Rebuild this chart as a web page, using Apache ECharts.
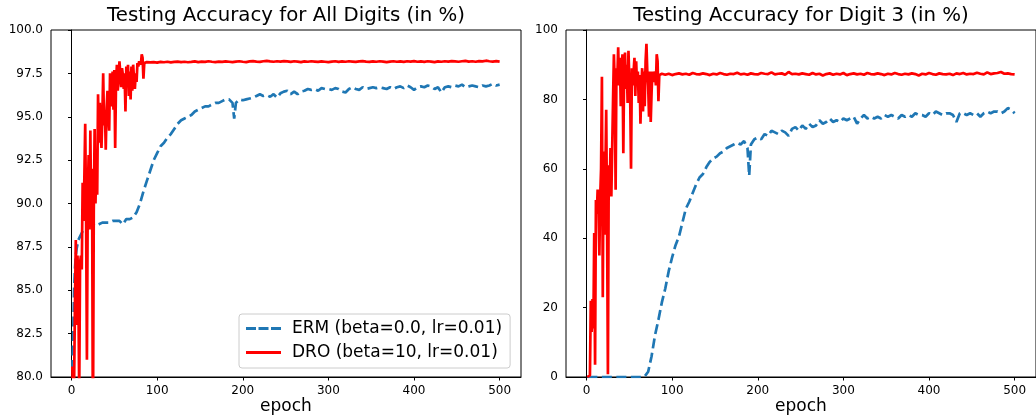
<!DOCTYPE html>
<html>
<head>
<meta charset="utf-8">
<script src="https://cdn.jsdelivr.net/npm/echarts@6/dist/echarts.min.js"></script>
<style>
html,body{margin:0;padding:0;background:#fff;}
#chart{width:1036px;height:417px;}
</style>
</head>
<body>
<div id="chart"></div>
<script>
// ---------------- DATA ----------------
const titles = ['Testing Accuracy for All Digits (in %)', 'Testing Accuracy for Digit 3 (in %)'];
const xLabel = 'epoch';
const seriesNames = ['ERM (beta=0.0, lr=0.01)', 'DRO (beta=10, lr=0.01)'];
const xTicks = [0, 100, 200, 300, 400, 500];

// DRO, epochs 1..90 (one value per epoch)
const droEarlyAll = [
80.6,78,79.5,84,87.9,83,87.0,85,79,86.6,
87,86.2,91.2,89,91.5,94.6,89.5,81.0,90.5,92.8,
88.5,94.2,89.0,92,76,89.5,94.3,90,92.5,90.5,
96.3,93.5,95.8,94,93.2,95,97.5,94.5,95.4,93.1,
95.5,96.5,95.2,94.2,97.5,96,95.6,97.6,95.4,97.7,
93.2,97,98.0,96.5,97.2,98.2,97.5,96.7,97.8,97.4,
96.6,97.5,95.3,97.9,96.8,98.0,96.2,97.6,96.0,97.9,
96.5,98.0,97.2,96.6,97.5,97.0,98.1,97.9,98.2,98.3,
98.0,98.6,98.4,97.2,98.1,98.2,98.1,98.15,98.1,98.12
];
const droEarlyD3 = [
0,0,0,0.5,22,13,22.5,14,41.5,3.5,
51,47,54,50,35,52,60,86.5,23,65,
41,58,77,45,0.8,61,52,66,52,66,
80,93,84,54,89,86,95,84,92,78,
88,93,64.5,90,93.5,83,90,79,94,86,
81,60,89,84,88,92,81,91,84,88,
79,87,73,83,89,76.5,88,78,91,96,
88,84,75,88,73.5,82,88,85,87,88,
84,93,91,79.5,87,87.3,87.2,87.4,87.1,87.3
];

// DRO after epoch 90
const lateEpochs = [92,96,100,104,108,112,116,120,124,128,132,136,140,144,148,152,156,160,164,168,172,176,180,184,188,192,196,200,204,208,212,216,220,224,228,232,236,240,244,248,252,256,260,264,268,272,276,280,284,288,292,296,300,304,308,312,316,320,324,328,332,336,340,344,348,352,356,360,364,368,372,376,380,384,388,392,396,400,404,408,412,416,420,424,428,432,436,440,444,448,452,456,460,464,468,472,476,480,484,488,492,496,500];
const droLateAll = [
98.13,98.15,98.12,98.16,98.14,98.17,98.13,98.16,98.18,98.15,
98.17,98.14,98.16,98.19,98.15,98.18,98.16,98.2,98.17,98.15,
98.18,98.16,98.19,98.17,98.15,98.18,98.2,98.17,98.15,98.19,
98.21,98.18,98.16,98.2,98.22,98.19,98.17,98.2,98.18,98.21,
98.19,98.16,98.2,98.18,98.15,98.19,98.17,98.2,98.18,98.16,
98.19,98.17,98.15,98.18,98.2,98.16,98.19,98.17,98.2,98.18,
98.16,98.19,98.21,98.18,98.16,98.19,98.17,98.2,98.18,98.15,
98.18,98.2,98.17,98.19,98.16,98.2,98.18,98.21,98.17,98.19,
98.16,98.2,98.18,98.15,98.19,98.17,98.2,98.18,98.21,98.19,
98.17,98.2,98.22,98.18,98.2,98.17,98.21,98.19,98.23,98.2,
98.18,98.21,98.18
];
const droLateD3 = [
87.1,87.4,87.0,87.3,87.5,87.2,87.4,87.1,87.6,87.3,
87.2,87.5,87.3,87.0,87.4,87.2,87.6,87.3,87.1,87.4,
87.3,87.7,87.2,87.4,87.1,87.5,87.3,87.2,87.6,87.4,
87.3,87.8,87.2,87.4,87.5,87.1,87.9,87.3,87.4,87.2,
87.5,87.3,87.1,87.6,87.2,87.4,86.9,87.3,87.5,87.1,
87.4,87.2,87.6,87.0,87.3,87.5,87.2,87.4,87.1,87.6,
87.3,87.2,87.5,87.3,87.0,87.4,87.2,87.6,87.3,87.1,
87.4,87.2,87.5,87.3,86.9,87.4,87.2,87.6,87.3,87.1,
87.5,87.3,87.2,87.4,87.0,87.5,87.3,87.6,87.2,87.4,
87.3,87.7,87.4,87.2,87.8,87.3,87.5,87.6,87.9,87.4,
87.5,87.3,87.2
];

// ERM
const ermEpochs = [1,2,3,4,5,6,8,10,13,16,
20,24,28,32,36,40,44,48,52,56,60,64,68,72,76,80,84,88,92,96,100,104,108,112,116,120,124,128,132,136,140,144,148,152,156,160,164,168,172,176,180,184,188,
190,
192,196,200,204,208,212,216,220,224,228,232,236,240,244,248,252,256,260,264,268,272,276,280,284,288,292,296,300,304,308,312,316,320,324,328,332,336,340,344,348,352,356,360,364,368,372,376,380,384,388,392,396,400,404,408,412,416,420,424,428,432,436,440,444,448,452,456,460,464,468,472,476,480,484,488,492,496,500];
const ermAll = [80.4,82.5,85.0,86.2,87.0,87.4,87.9,88.1,88.4,88.6,
88.7,88.8,88.7,88.8,88.9,88.9,88.9,89.0,89.0,89.0,88.8,89.1,89.1,89.2,89.5,90.0,90.7,91.3,91.9,92.5,92.9,93.3,93.5,93.8,94.0,94.3,94.6,94.8,94.9,95.0,95.1,95.3,95.4,95.5,95.6,95.6,95.7,95.8,95.8,95.9,96.0,96.0,95.8,
94.9,
95.8,96.0,95.95,96.0,96.05,96.1,96.2,96.3,96.2,96.25,96.15,96.3,96.1,96.35,96.45,96.5,96.3,96.45,96.3,96.45,96.5,96.6,96.55,96.6,96.5,96.65,96.6,96.6,96.55,96.65,96.6,96.45,96.4,96.6,96.7,96.6,96.55,96.7,96.6,96.65,96.7,96.65,96.7,96.65,96.6,96.7,96.6,96.7,96.75,96.65,96.8,96.7,96.55,96.7,96.75,96.7,96.8,96.75,96.6,96.7,96.4,96.7,96.75,96.7,96.8,96.75,96.85,96.7,96.75,96.8,96.75,96.7,96.8,96.75,96.8,96.9,96.8,96.85];
const ermD3 = [0,0,0,0,0,0,0,0,0,0,
0,0,0,0,0,0,0,0,0,0,0,0,0.2,1.5,6,12,16.5,21.5,25.5,30.5,34.5,38,40.5,44.5,48.5,50.5,53,55.5,57.5,58.5,60.5,62,63,63.5,64.5,65,66,66.5,67,67.5,67,68,66,
58,
67,68.5,69,68.5,70,69.5,71,70.5,70,71,70.5,69.5,71.5,72,71,72.5,71.5,73,72,72.5,74,73,73.5,74.5,73.5,74,73.5,74.5,74,74.5,75,73,74.5,75.5,74.5,75,74.5,75,74.5,75.5,75,75.5,75,74.5,75.5,75,75.5,75,76,75.5,75.5,75,76,75.5,76.5,76,75.5,76,76,75.5,73.5,76,76,75.5,76,75.5,76,75,76,76.5,76,76.5,76.5,76,76.5,77.5,77,76];

// ---------------- BUILD ----------------
function pairs(xs, ys) { return xs.map((x, i) => [x, ys[i]]); }
function earlyPairs(ys) { return ys.map((v, i) => [i + 1, v]); }

const FONT = 'DejaVu Sans';
const BLUE = '#1f77b4', RED = '#ff0000';
const LW = 2.7;

// legend glyphs (35 x 17 box, 3px tall stroke in the middle)
const ICON_DASH = 'path://M0,0L0,17M35,0L35,17M0,7h10v3h-10zM12.5,7h10v3h-10zM25,7h10v3h-10z';
const ICON_SOLID = 'path://M0,0L0,17M35,0L35,17M0,7h35v3h-35z';

function xAxisCfg(gi) {
  return {
    gridIndex: gi, type: 'value', min: -23.95, max: 524.95,
    axisLine: { show: true, lineStyle: { color: '#000', width: 1 } },
    axisTick: { show: true, length: 3.5, inside: false, lineStyle: { color: '#000' }, customValues: xTicks },
    axisLabel: { show: true, margin: 8, color: '#000', fontSize: 12, fontFamily: FONT, customValues: xTicks },
    splitLine: { show: false }
  };
}

const option = {
  animation: false,
  backgroundColor: '#fff',
  grid: [
    { left: 51, top: 30, width: 470, height: 347, show: true, borderColor: '#000', borderWidth: 1, backgroundColor: 'transparent' },
    { left: 566, top: 30, width: 471, height: 347, show: true, borderColor: '#000', borderWidth: 1, backgroundColor: 'transparent' }
  ],
  xAxis: [xAxisCfg(0), xAxisCfg(1)],
  yAxis: [
    { gridIndex: 0, type: 'value', min: 80, max: 100, interval: 2.5,
      axisLine: { show: true, lineStyle: { color: '#000' } },
      axisTick: { show: true, length: 3.5, lineStyle: { color: '#000' } },
      axisLabel: { margin: 8, color: '#000', fontSize: 12, fontFamily: FONT, formatter: v => v.toFixed(1) },
      splitLine: { show: false } },
    { gridIndex: 1, type: 'value', min: 0, max: 100, interval: 20,
      axisLine: { show: true, lineStyle: { color: '#000' } },
      axisTick: { show: true, length: 3.5, lineStyle: { color: '#000' } },
      axisLabel: { margin: 8, color: '#000', fontSize: 12, fontFamily: FONT },
      splitLine: { show: false } }
  ],
  legend: {
    data: [ { name: seriesNames[0], icon: ICON_DASH }, { name: seriesNames[1], icon: ICON_SOLID } ],
    orient: 'vertical', left: 239, top: 314,
    padding: [6, 8, 7, 7],
    itemWidth: 35, itemHeight: 17, itemGap: 7,
    backgroundColor: '#fff', borderColor: '#cccccc', borderWidth: 1, borderRadius: 3,
    selectedMode: false,
    itemStyle: { borderWidth: 0 },
    textStyle: { fontSize: 17, lineHeight: 17, fontFamily: FONT, color: '#000', padding: [0, 0, 0, 6] }
  },
  graphic: [
    { type: 'text', x: 286, y: 16, style: { text: titles[0], fill: '#000', font: '19.75px "DejaVu Sans"', align: 'center', verticalAlign: 'middle' } },
    { type: 'text', x: 801, y: 16, style: { text: titles[1], fill: '#000', font: '19.75px "DejaVu Sans"', align: 'center', verticalAlign: 'middle' } },
    { type: 'text', x: 286, y: 407, style: { text: xLabel, fill: '#000', font: '17px "DejaVu Sans"', align: 'center', verticalAlign: 'middle' } },
    { type: 'text', x: 801, y: 407, style: { text: xLabel, fill: '#000', font: '17px "DejaVu Sans"', align: 'center', verticalAlign: 'middle' } }
  ],
  series: [
    { name: seriesNames[0], type: 'line', xAxisIndex: 0, yAxisIndex: 0, symbol: 'none', clip: true,
      data: pairs(ermEpochs, ermAll), itemStyle: { color: BLUE },
      lineStyle: { color: BLUE, width: LW, type: [10, 4.5] }, z: 2 },
    { name: seriesNames[1], type: 'line', xAxisIndex: 0, yAxisIndex: 0, symbol: 'none', clip: true,
      data: earlyPairs(droEarlyAll).concat(pairs(lateEpochs, droLateAll)), itemStyle: { color: RED },
      lineStyle: { color: RED, width: LW }, z: 3 },
    { name: seriesNames[0], type: 'line', xAxisIndex: 1, yAxisIndex: 1, symbol: 'none', clip: true,
      data: pairs(ermEpochs, ermD3), itemStyle: { color: BLUE },
      lineStyle: { color: BLUE, width: LW, type: [10, 4.5] }, z: 2 },
    { name: seriesNames[1], type: 'line', xAxisIndex: 1, yAxisIndex: 1, symbol: 'none', clip: true,
      data: earlyPairs(droEarlyD3).concat(pairs(lateEpochs, droLateD3)), itemStyle: { color: RED },
      lineStyle: { color: RED, width: LW }, z: 3 }
  ]
};

const chart = echarts.init(document.getElementById('chart'), null, { renderer: 'canvas' });
chart.setOption(option);
</script>
</body>
</html>
